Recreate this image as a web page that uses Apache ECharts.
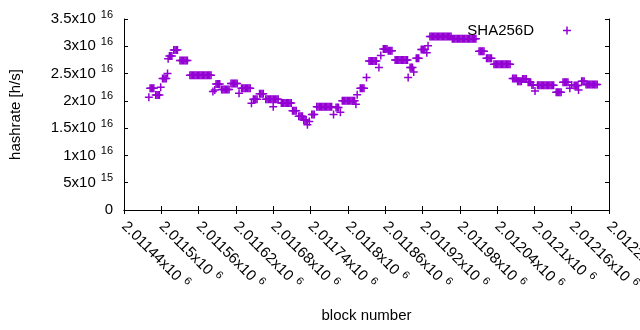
<!DOCTYPE html>
<html><head><meta charset="utf-8">
<script src="https://cdn.jsdelivr.net/npm/echarts@6/dist/echarts.min.js"></script>
<style>html,body{margin:0;padding:0;background:#fff}#c{width:640px;height:330px}</style>
</head><body><div id="c"></div>
<script>
// block numbers of the plotted points
const blockNumbers = [
 2011480,
 2011482,2011484,2011486,2011488,
 2011491,2011493,2011495,2011497,
 2011499,
 2011502,2011504,2011506,2011508,
 2011510,2011511,
 2011513,2011515,2011517,
 2011520,2011522,2011524,2011526,
 2011530,2011532,2011534,2011536,2011538,2011540,2011542,
 2011546,2011548,2011550,2011552,2011554,2011556,2011558,2011560,2011562,2011564,2011566,2011568,2011570,2011572,2011574,2011576,2011578,2011580,
 2011583,2011586,
 2011588,2011590,2011592,2011594,
 2011597,2011599,2011601,2011603,2011605,2011607,2011609,
 2011612,2011614,2011616,2011618,2011620,2011622,
 2011625,
 2011629,2011631,2011633,2011635,2011637,2011639,2011641,2011643,
 2011645,
 2011648,2011650,2011652,2011654,
 2011658,2011660,2011662,2011664,
 2011668,2011670,2011672,2011674,2011676,2011678,2011680,2011682,2011684,2011686,2011688,
 2011680,
 2011693,2011695,2011697,2011699,2011701,2011703,2011705,2011707,2011709,
 2011711,2011713,2011715,2011717,
 2011721,2011723,2011725,2011727,
 2011729,2011731,2011733,
 2011735,2011738,
 2011742,2011744,2011746,
 2011750,2011752,2011754,2011756,2011758,2011760,2011762,2011764,2011766,2011768,2011770,2011772,2011774,
 2011777,
 2011781,2011783,2011785,
 2011788,
 2011791,2011793,2011795,2011797,2011799,2011801,2011803,2011805,2011807,2011809,2011811,
 2011813,2011815,
 2011820,2011822,2011824,2011826,
 2011830,
 2011834,2011836,2011838,2011840,2011842,2011844,2011846,
 2011850,2011853,
 2011857,2011859,2011861,2011863,
 2011865,2011867,2011869,2011871,
 2011876,2011878,2011880,2011882,2011884,2011886,2011888,2011890,2011892,2011894,2011896,
 2011897,
 2011900,2011902,2011904,
 2011906,
 2011910,2011912,2011914,
 2011918,2011920,2011922,2011924,
 2011927,2011929,
 2011932,2011934,2011936,2011938,2011940,2011942,2011944,2011946,2011948,2011950,2011952,2011954,2011956,2011958,2011960,2011962,2011964,2011966,
 2011968,2011970,2011972,2011974,2011976,2011978,2011980,2011982,2011984,2011986,2011988,2011990,2011992,2011994,2011996,2011998,2012000,2012002,2012004,2012006,
 2012011,2012013,2012015,2012017,2012019,
 2012023,2012025,2012027,2012029,2012031,
 2012035,2012037,2012039,2012041,2012043,2012045,2012047,2012049,2012051,2012053,2012055,2012057,2012059,2012061,
 2012065,2012067,2012069,2012071,
 2012073,2012075,2012077,2012079,
 2012081,2012083,2012085,2012087,
 2012090,2012092,2012094,
 2012096,2012098,
 2012101,
 2012105,2012107,2012109,2012111,2012113,2012115,2012117,2012119,2012121,2012123,2012125,2012127,2012129,2012131,
 2012135,2012137,2012139,2012141,2012143,
 2012146,2012148,2012150,2012152,2012154,
 2012157,2012160,
 2012164,2012166,2012168,2012170,
 2012171,
 2012176,2012178,2012180,
 2012183,2012185,2012187,2012189,2012191,2012193,2012195,2012197,2012199,2012201
];
// hashrate [h/s] of each point (same order as blockNumbers)
const hashrates = [
 2.065e16,
 2.23e16,2.23e16,2.23e16,2.23e16,
 2.107e16,2.107e16,2.107e16,2.107e16,
 2.25e16,
 2.41e16,2.41e16,2.41e16,2.41e16,
 2.50e16,2.77e16,
 2.82e16,2.82e16,2.82e16,
 2.93e16,2.93e16,2.93e16,2.93e16,
 2.74e16,2.74e16,2.74e16,2.74e16,2.74e16,2.74e16,2.74e16,
 2.47e16,2.47e16,2.47e16,2.47e16,2.47e16,2.47e16,2.47e16,2.47e16,2.47e16,2.47e16,2.47e16,2.47e16,2.47e16,2.47e16,2.47e16,2.47e16,2.47e16,2.47e16,
 2.17e16,2.20e16,
 2.31e16,2.31e16,2.31e16,2.31e16,
 2.21e16,2.21e16,2.21e16,2.21e16,2.21e16,2.21e16,2.21e16,
 2.32e16,2.32e16,2.32e16,2.32e16,2.32e16,2.32e16,
 2.14e16,
 2.23e16,2.23e16,2.23e16,2.23e16,2.23e16,2.23e16,2.23e16,2.23e16,
 1.955e16,
 2.03e16,2.03e16,2.03e16,2.03e16,
 2.13e16,2.13e16,2.13e16,2.13e16,
 2.03e16,2.03e16,2.03e16,2.03e16,2.03e16,2.03e16,2.03e16,2.03e16,2.03e16,2.03e16,2.03e16,
 1.89e16,
 1.96e16,1.96e16,1.96e16,1.96e16,1.96e16,1.96e16,1.96e16,1.96e16,1.96e16,
 1.82e16,1.82e16,1.82e16,1.82e16,
 1.72e16,1.72e16,1.72e16,1.72e16,
 1.65e16,1.65e16,1.65e16,
 1.56e16,1.62e16,
 1.75e16,1.75e16,1.75e16,
 1.89e16,1.89e16,1.89e16,1.89e16,1.89e16,1.89e16,1.89e16,1.89e16,1.89e16,1.89e16,1.89e16,1.89e16,1.89e16,
 1.75e16,
 1.88e16,1.88e16,1.88e16,
 1.79e16,
 2.00e16,2.00e16,2.00e16,2.00e16,2.00e16,2.00e16,2.00e16,2.00e16,2.00e16,2.00e16,2.00e16,
 1.94e16,2.11e16,
 2.23e16,2.23e16,2.23e16,2.23e16,
 2.43e16,
 2.73e16,2.73e16,2.73e16,2.73e16,2.73e16,2.73e16,2.73e16,
 2.61e16,2.83e16,
 2.95e16,2.95e16,2.95e16,2.95e16,
 2.92e16,2.92e16,2.92e16,2.92e16,
 2.75e16,2.75e16,2.75e16,2.75e16,2.75e16,2.75e16,2.75e16,2.75e16,2.75e16,2.75e16,2.75e16,
 2.43e16,
 2.61e16,2.61e16,2.61e16,
 2.53e16,
 2.78e16,2.78e16,2.78e16,
 2.94e16,2.94e16,2.94e16,2.94e16,
 2.88e16,3.01e16,
 3.18e16,3.18e16,3.18e16,3.18e16,3.18e16,3.18e16,3.18e16,3.18e16,3.18e16,3.18e16,3.18e16,3.18e16,3.18e16,3.18e16,3.18e16,3.18e16,3.18e16,3.18e16,
 3.14e16,3.14e16,3.14e16,3.14e16,3.14e16,3.14e16,3.14e16,3.14e16,3.14e16,3.14e16,3.14e16,3.14e16,3.14e16,3.14e16,3.14e16,3.14e16,3.14e16,3.14e16,3.14e16,3.14e16,
 2.91e16,2.91e16,2.91e16,2.91e16,2.91e16,
 2.78e16,2.78e16,2.78e16,2.78e16,2.78e16,
 2.67e16,2.67e16,2.67e16,2.67e16,2.67e16,2.67e16,2.67e16,2.67e16,2.67e16,2.67e16,2.67e16,2.67e16,2.67e16,2.67e16,
 2.41e16,2.41e16,2.41e16,2.41e16,
 2.36e16,2.36e16,2.36e16,2.36e16,
 2.40e16,2.40e16,2.40e16,2.40e16,
 2.34e16,2.34e16,2.34e16,
 2.29e16,2.29e16,
 2.18e16,
 2.285e16,2.285e16,2.285e16,2.285e16,2.285e16,2.285e16,2.285e16,2.285e16,2.285e16,2.285e16,2.285e16,2.285e16,2.285e16,2.285e16,
 2.16e16,2.16e16,2.16e16,2.16e16,2.16e16,
 2.34e16,2.34e16,2.34e16,2.34e16,2.34e16,
 2.23e16,2.29e16,
 2.28e16,2.28e16,2.28e16,2.28e16,
 2.20e16,
 2.36e16,2.36e16,2.36e16,
 2.30e16,2.30e16,2.30e16,2.30e16,2.30e16,2.30e16,2.30e16,2.30e16,2.30e16,2.30e16
];
const seriesName = 'SHA256D';
const xTickMantissas = ['2.01144x10','2.0115x10','2.01156x10','2.01162x10','2.01168x10','2.01174x10','2.0118x10','2.01186x10','2.01192x10','2.01198x10','2.01204x10','2.0121x10','2.01216x10','2.0122x10'];
const xTickExponent = '6';
const yTickMantissas = ['0','5x10','1x10','1.5x10','2x10','2.5x10','3x10','3.5x10'];
const yTickExponents = ['','15','16','16','16','16','16','16'];
const xTitle = 'block number';
const yTitle = 'hashrate [h/s]';

const X_MIN = 2011440, X_MAX = 2012220, X_STEP = 60;
const Y_MIN = 0, Y_MAX = 3.5e16, Y_STEP = 5e15;
const FONT = '"Liberation Sans", Arial, sans-serif';
const COLOR = '#9400d3';
const PLUS = 'path://M0,3.25H3.25V0H4.75V3.25H8V4.75H4.75V8H3.25V4.75H0Z';

const points = blockNumbers.map((b, i) => [b, hashrates[i]]);
if (blockNumbers.length !== hashrates.length) console.error('length mismatch', blockNumbers.length, hashrates.length);

const rich = {
  m: { fontSize: 15, fontFamily: FONT, color: '#000', lineHeight: 20 },
  s: { fontSize: 11, fontFamily: FONT, color: '#000', lineHeight: 11, verticalAlign: 'top', padding: [0, 0, 0, 5] }
};
function supLabel(m, e) { return e ? '{m|' + m + '}{s|' + e + '}' : '{m|' + m + '}'; }

const chart = echarts.init(document.getElementById('c'), null, { renderer: 'canvas' });
const axisLine = { show: true, lineStyle: { color: '#000', width: 1 } };
const axisTick = { show: true, inside: true, length: 4, lineStyle: { color: '#000', width: 1 } };
chart.setOption({
  animation: false,
  backgroundColor: '#fff',
  grid: { left: 124, right: 31, top: 19, bottom: 120, containLabel: false, outerBoundsMode: 'none' },
  legend: {
    data: [seriesName], right: 69, top: 23, align: 'right', padding: 0,
    itemWidth: 8, itemHeight: 8, icon: PLUS,
    textStyle: { fontSize: 15, fontFamily: FONT, color: '#000', padding: [0, 24, 0, 0] }
  },
  xAxis: [{
    type: 'value', min: X_MIN, max: X_MAX, interval: X_STEP, position: 'bottom',
    axisLine, axisTick, splitLine: { show: false },
    axisLabel: {
      rotate: -45, margin: 14, color: '#000', rich, hideOverlap: false,
      formatter: v => { const i = Math.round((v - X_MIN) / X_STEP); return supLabel(xTickMantissas[i], xTickExponent); }
    },
    name: xTitle, nameLocation: 'middle', nameGap: 98,
    nameTextStyle: { fontSize: 15, fontFamily: FONT, color: '#000' }
  }, {
    type: 'value', min: X_MIN, max: X_MAX, interval: X_STEP, position: 'top',
    axisLine, axisTick, splitLine: { show: false }, axisLabel: { show: false }
  }],
  yAxis: [{
    type: 'value', min: Y_MIN, max: Y_MAX, interval: Y_STEP, position: 'left',
    axisLine, axisTick, splitLine: { show: false },
    axisLabel: {
      margin: 11, color: '#000', rich,
      formatter: v => { const i = Math.round((v - Y_MIN) / Y_STEP); return supLabel(yTickMantissas[i], yTickExponents[i]); }
    },
    name: yTitle, nameLocation: 'middle', nameGap: 101,
    nameTextStyle: { fontSize: 15, fontFamily: FONT, color: '#000' }
  }, {
    type: 'value', min: Y_MIN, max: Y_MAX, interval: Y_STEP, position: 'right',
    axisLine, axisTick, splitLine: { show: false }, axisLabel: { show: false }
  }],
  series: [{
    name: seriesName, type: 'scatter', xAxisIndex: 0, yAxisIndex: 0,
    symbol: PLUS, symbolSize: 8, itemStyle: { color: COLOR, opacity: 1 },
    data: points, clip: false
  }]
});
</script></body></html>
